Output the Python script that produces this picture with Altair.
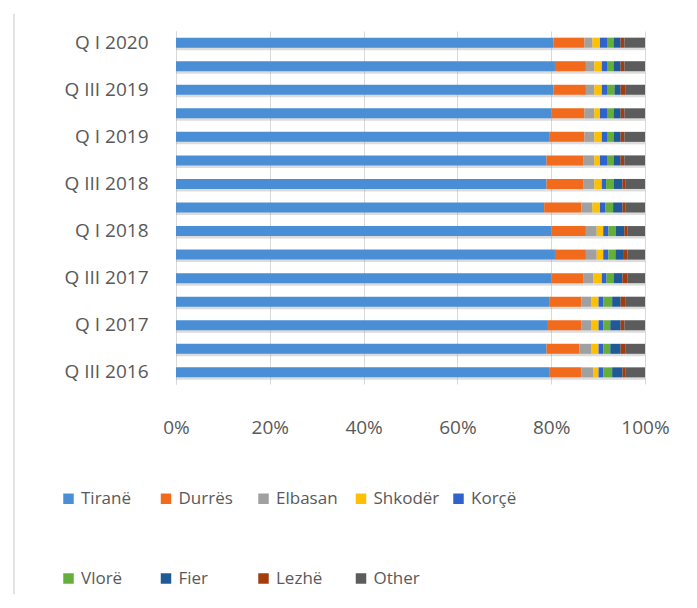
import altair as alt
import pandas as pd

quarters = ["Q III 2016", "Q IV 2016", "Q I 2017", "Q II 2017", "Q III 2017",
            "Q IV 2017", "Q I 2018", "Q II 2018", "Q III 2018", "Q IV 2018",
            "Q I 2019", "Q II 2019", "Q III 2019", "Q IV 2019", "Q I 2020"]
labeled = ["Q I 2020", "Q III 2019", "Q I 2019", "Q III 2018",
           "Q I 2018", "Q III 2017", "Q I 2017", "Q III 2016"]

regions = ["Tiranë", "Durrës", "Elbasan", "Shkodër", "Korçë",
           "Vlorë", "Fier", "Lezhë", "Other"]
colors = ["#4A8FD6", "#F26B1D", "#A0A0A0", "#FFC000", "#2F62CC",
          "#66AE3A", "#1F5A96", "#A33E0C", "#5C5C5C"]

tirane  = [79.7, 79.0, 79.3, 79.7, 80.1, 80.8, 80.1, 78.5, 79.0, 79.0, 79.7, 80.1, 80.5, 80.8, 80.5]
durres  = [6.7, 7.0, 7.1, 6.7, 6.7, 6.6, 7.3, 7.9, 7.8, 7.8, 7.4, 7.0, 6.9, 6.6, 6.6]
elbasan = [2.6, 2.5, 2.1, 2.1, 2.2, 2.3, 2.3, 2.4, 2.4, 2.4, 2.1, 2.1, 1.8, 1.8, 1.7]
shkoder = [1.1, 1.6, 1.6, 1.6, 1.8, 1.4, 1.4, 1.6, 1.6, 1.2, 1.6, 1.2, 1.6, 1.6, 1.6]
korce   = [1.0, 1.0, 1.0, 1.0, 1.0, 1.1, 1.1, 1.1, 0.9, 1.5, 1.1, 1.5, 1.1, 1.1, 1.5]
vlore   = [1.9, 1.5, 1.5, 1.9, 1.5, 1.5, 1.6, 1.7, 1.6, 1.4, 1.4, 1.4, 1.6, 1.4, 1.4]
fier    = [2.2, 2.2, 2.2, 1.8, 1.9, 1.8, 1.8, 2.0, 1.9, 1.5, 1.5, 1.5, 1.3, 1.5, 1.5]
lezhe   = [0.7, 1.1, 0.8, 1.1, 1.1, 0.8, 0.7, 0.7, 0.7, 0.8, 0.8, 0.8, 1.1, 0.8, 0.8]
other   = [4.1, 4.1, 4.4, 4.1, 3.7, 3.7, 3.7, 4.1, 4.1, 4.4, 4.4, 4.4, 4.1, 4.4, 4.4]

series = [tirane, durres, elbasan, shkoder, korce, vlore, fier, lezhe, other]
rows = []
for ri, (name, vals) in enumerate(zip(regions, series)):
    for q, v in zip(quarters, vals):
        rows.append({"quarter": q, "region": name, "value": v, "order": ri})
df = pd.DataFrame(rows)

FONT = "Open Sans"
GREY = "#595959"
y_sort = list(reversed(quarters))

y_enc = alt.Y("quarter:N", sort=y_sort, title=None,
              scale=alt.Scale(paddingInner=0.57, paddingOuter=0.28),
              axis=alt.Axis(values=labeled, ticks=False, domain=True,
                            domainColor="#D9D9D9", labelFont=FONT,
                            labelFontSize=19, labelColor=GREY,
                            labelPadding=28))

shadow = alt.Chart(df).mark_bar(size=9, color="#9A9A9A", opacity=0.35,
                                yOffset=3).encode(
    x=alt.X("value:Q", stack="normalize"),
    y=alt.Y("quarter:N", sort=y_sort),
    order=alt.Order("order:Q"),
)

bars = alt.Chart(df).mark_bar(size=10).encode(
    x=alt.X("value:Q", stack="normalize", title=None,
            scale=alt.Scale(domain=[0, 1], nice=False),
            axis=alt.Axis(format=".0%", values=[0, 0.2, 0.4, 0.6, 0.8, 1.0],
                          grid=True, gridColor="#D9D9D9", domain=False,
                          ticks=False, labelFlush=False, labelFont=FONT,
                          labelFontSize=19, labelColor=GREY,
                          labelPadding=34)),
    y=y_enc,
    color=alt.Color("region:N", sort=regions,
                    scale=alt.Scale(domain=regions, range=colors),
                    legend=alt.Legend(title=None, orient="none",
                                      direction="horizontal",
                                      legendX=-116, legendY=459,
                                      columns=5, gridAlign="all",
                                      columnPadding=10.5, rowPadding=62,
                                      symbolType="square", symbolSize=110,
                                      symbolStrokeWidth=0, labelFont=FONT,
                                      labelFontSize=17, labelColor=GREY,
                                      labelOffset=4, padding=0)),
    order=alt.Order("order:Q"),
)

frame = alt.Chart(pd.DataFrame({"a": [0]})).mark_rule(
    color="#D9D9D9", strokeWidth=1.5).encode(
    x=alt.value(-162), y=alt.value(-17), y2=alt.value(570))

chart = alt.layer(frame, shadow, bars).properties(
    width=469, height=353,
    autosize=alt.AutoSizeParams(type="none"),
    padding={"left": 168, "top": 23, "right": 40, "bottom": 210},
).configure_view(stroke=None)

chart.save("out.html", embed_options={"renderer": "svg", "actions": False})
